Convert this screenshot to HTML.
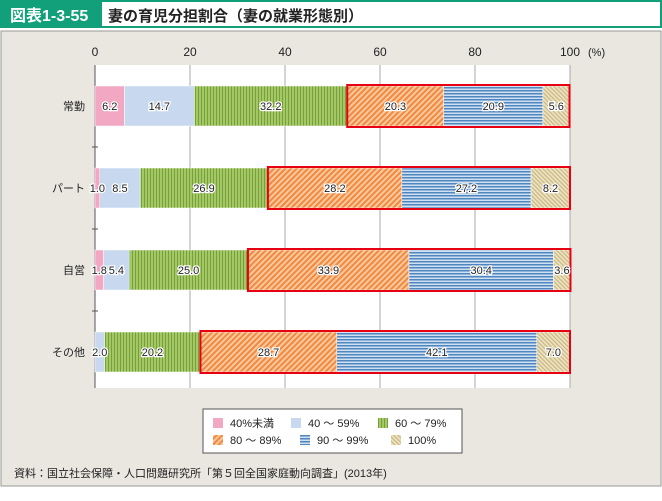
<!DOCTYPE html>
<html><head><meta charset="utf-8"><style>
body{margin:0;width:662px;height:496px;background:#fff;font-family:"Liberation Sans","Noto Sans CJK JP",sans-serif;overflow:hidden}
</style></head><body>
<svg width="662" height="496" xmlns="http://www.w3.org/2000/svg" font-family="Liberation Sans, Noto Sans CJK JP, sans-serif">
<defs>
<pattern id="pg" width="3" height="3" patternUnits="userSpaceOnUse"><rect width="3" height="3" fill="#a5c866"/><rect width="1" height="3" fill="#76a03c"/></pattern>
<pattern id="po" width="4" height="4" patternUnits="userSpaceOnUse" patternTransform="rotate(45)"><rect width="4" height="4" fill="#fbc8a0"/><rect width="2" height="4" fill="#f08a3e"/></pattern>
<pattern id="pb" width="3" height="3" patternUnits="userSpaceOnUse"><rect width="3" height="3" fill="#cfe0f0"/><rect width="3" height="1.5" fill="#4f86c0"/></pattern>
<pattern id="py" width="3" height="3" patternUnits="userSpaceOnUse" patternTransform="rotate(-45)"><rect width="3" height="3" fill="#ede3c4"/><rect width="1.2" height="3" fill="#c9b77f"/></pattern>
</defs>
<rect x="0" y="0" width="662" height="28" fill="#11a07a"/>
<rect x="102" y="2" width="558" height="24" fill="#fff"/>
<text x="10" y="21" font-size="16" font-weight="bold" fill="#fff">図表1-3-55</text>
<text x="108" y="21" font-size="15" font-weight="bold" fill="#222">妻の育児分担割合（妻の就業形態別）</text>
<rect x="1" y="31" width="660" height="455" fill="#e9e7e0" stroke="#999"/>
<rect x="95" y="65" width="475" height="323" fill="#fff"/>
<g id="axis"></g>
<g id="bars"></g>
<g id="labels"></g>
<g>
<rect x="203" y="409" width="259" height="44" fill="#fff" stroke="#555"/>
<rect x="213" y="418" width="10" height="10" fill="#f2a7c2"/><text x="230" y="427" font-size="11" fill="#222">40%未満</text>
<rect x="291" y="418" width="10" height="10" fill="#c8d9ef"/><text x="308" y="427" font-size="11" fill="#222">40 ～ 59%</text>
<rect x="378" y="418" width="10" height="10" fill="url(#pg)"/><text x="395" y="427" font-size="11" fill="#222">60 ～ 79%</text>
<rect x="213" y="435" width="10" height="10" fill="url(#po)"/><text x="230" y="444" font-size="11" fill="#222">80 ～ 89%</text>
<rect x="300" y="435" width="10" height="10" fill="url(#pb)"/><text x="317" y="444" font-size="11" fill="#222">90 ～ 99%</text>
<rect x="391" y="435" width="10" height="10" fill="url(#py)"/><text x="408" y="444" font-size="11" fill="#222">100%</text>
</g>
<text x="14" y="477" font-size="11" fill="#222">資料：国立社会保障・人口問題研究所「第５回全国家庭動向調査」(2013年)</text>
<script>
var categories=["常勤","パート","自営","その他"];
var s1=[6.2,1.0,1.8,0];
var s2=[14.7,8.5,5.4,2.0];
var s3=[32.2,26.9,25.0,20.2];
var s4=[20.3,28.2,33.9,28.7];
var s5=[20.9,27.2,30.4,42.1];
var s6=[5.6,8.2,3.6,7.0];
var ticks=[0,20,40,60,80,100];
var ns="http://www.w3.org/2000/svg";
function x(v){return 95+v*4.75;}
function yc(i){return 106+i*82;}
function mk(t,a,p){var e=document.createElementNS(ns,t);for(var k in a)e.setAttribute(k,a[k]);p.appendChild(e);return e;}
var ax=document.getElementById('axis'),bg=document.getElementById('bars'),lg=document.getElementById('labels');
ticks.forEach(function(t){
 var l=mk('line',{x1:x(t),x2:x(t),y1:65,y2:388,stroke:t==0?'#555':'#aaa','stroke-width':1},ax);
 
 
 var tx=mk('text',{x:x(t),y:56,'font-size':12,'text-anchor':'middle',fill:'#222'},ax);tx.textContent=t;
 
 
});
var u=mk('text',{x:588,y:56,'font-size':11,fill:'#222'},ax);u.textContent='(%)';


[147,229,311].forEach(function(y){mk('line',{x1:92,x2:98,y1:y,y2:y,stroke:'#555'},ax);});
var fills=['#f2a7c2','#c8d9ef','url(#pg)','url(#po)','url(#pb)','url(#py)'];
var series=[s1,s2,s3,s4,s5,s6];
categories.forEach(function(c,i){
 var cy=yc(i),cum=0,boxStart=0;
 var lb=mk('text',{x:85,y:cy+4,'font-size':11,'text-anchor':'end',fill:'#222'},bg);lb.textContent=c;
 
 
 series.forEach(function(s,j){
  var v=s[i];
  if(j==3)boxStart=cum;
  var r=mk('rect',{x:x(cum),y:cy-20,width:v*4.75,height:40,fill:fills[j],stroke:'#fff','stroke-width':0.5},bg);
  
  
  if(v>0){
   var t=mk('text',{x:x(cum+v/2),y:cy+4,'font-size':11,'text-anchor':'middle',fill:'#222',stroke:'#fff','stroke-width':2.5,'paint-order':'stroke'},lg);
   t.textContent=v.toFixed(1);
   
   
  }
  cum+=v;
 });
 var b=mk('rect',{x:x(boxStart),y:cy-21,width:(cum-boxStart)*4.75,height:42,fill:'none',stroke:'#e60012','stroke-width':2},bg);
 
 
});
</script>
</svg>
</body></html>
